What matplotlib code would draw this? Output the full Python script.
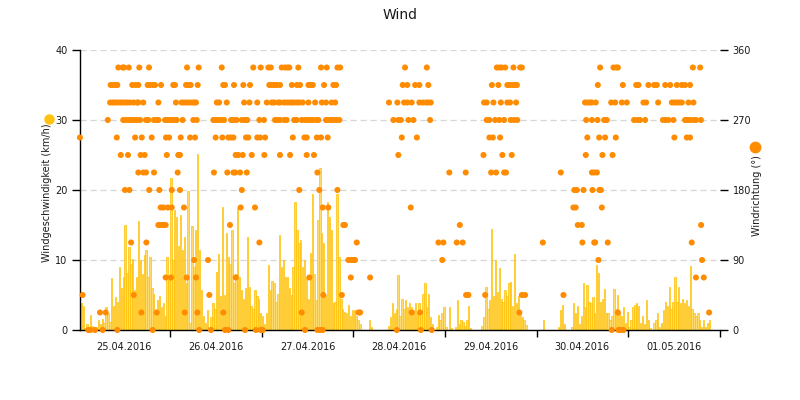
import matplotlib
matplotlib.use("Agg")
import matplotlib.pyplot as plt
import matplotlib.dates as mdates
from matplotlib.lines import Line2D
from datetime import datetime, timedelta
import numpy as np

# ---------------- data ----------------
start = datetime(2016, 4, 25)

# wind speed (km/h), 30-minute values per day
day0 = [0, 3.8, 3.5, 0.3, 0.9, 0.5, 2.1, 0.6, 0.3, 0.5, 1.4, 0.8, 1.6, 1.0, 3.3, 2.4, 1.2, 7.4, 3.5, 4.7,
        4.0, 9.0, 6.0, 7.6, 15.0, 8.1, 11.9, 9.5, 10.2, 5.7, 7.6, 15.6, 10.0, 8.0, 10.7, 11.4, 7.6, 10.5, 6.0, 5.2,
        2.5, 4.3, 4.8, 3.3, 3.8, 2.0, 10.5, 7.6]
day1 = [21.7, 10.0, 17.1, 16.2, 12.0, 16.4, 11.4, 13.3, 6.7, 19.8, 1.0, 14.8, 9.0, 14.3, 25.2, 11.4, 5.7, 2.0, 1.0, 2.9,
        0.5, 1.9, 3.8, 3.0, 8.3, 10.9, 4.8, 17.6, 5.0, 13.8, 10.5, 9.5, 14.3, 6.7, 8.0, 17.4, 7.6, 5.7, 4.5, 6.0,
        13.3, 6.2, 3.5, 3.0, 5.7, 4.8, 4.5, 2.4]
day2 = [2.0, 0.8, 2.4, 9.3, 5.7, 7.0, 6.7, 4.0, 5.2, 13.6, 9.0, 10.0, 7.6, 7.6, 6.0, 5.0, 9.0, 18.3, 14.3, 12.4,
        12.9, 9.0, 10.0, 7.6, 4.5, 11.0, 19.5, 8.0, 4.3, 15.7, 23.1, 13.8, 12.4, 5.0, 18.3, 16.2, 14.3, 3.8, 4.0, 19.5,
        10.5, 4.5, 3.0, 2.6, 2.4, 3.6, 2.0, 2.9]
day3 = [2.9, 2.0, 1.4, 0.8, 0, 0, 0, 0, 1.4, 0.5, 0, 0, 0, 0, 0, 0, 0, 0, 0.6, 1.9,
        3.8, 2.5, 3.0, 7.9, 2.0, 4.5, 3.0, 4.3, 3.3, 3.8, 3.3, 2.9, 3.8, 2.4, 3.8, 2.0, 5.2, 6.7, 3.3, 5.2,
        1.9, 0.8, 0, 0.5, 2.1, 1.5, 2.4, 3.3]
day4 = [0.5, 0, 3.3, 0.3, 0, 0.5, 4.3, 0.8, 1.4, 1.2, 0.6, 1.4, 3.5, 0.3, 0, 0, 0, 0, 0, 0.6,
        1.9, 6.2, 3.0, 4.3, 14.4, 4.8, 10.0, 5.5, 8.8, 4.5, 4.0, 5.7, 4.8, 6.7, 6.9, 3.5, 10.9, 3.8, 4.8, 2.5,
        1.9, 1.5, 0.7, 0, 0, 0, 0, 0]
day5 = [0, 0, 0, 1.4, 0, 0, 0, 0, 0, 0, 0, 0.5, 2.9, 3.6, 0.8, 0, 0, 0, 0.5, 3.9,
        2.5, 3.5, 0.8, 2.0, 6.7, 3.3, 6.4, 4.0, 3.8, 4.7, 2.5, 9.3, 8.2, 4.0, 4.5, 5.9, 2.5, 2.4, 1.5, 2.0,
        5.9, 3.0, 5.0, 2.4, 2.0, 3.3, 1.0, 2.6]
day6 = [0.5, 1.5, 3.3, 3.6, 3.8, 3.5, 1.0, 2.0, 0.8, 4.3, 1.5, 0.3, 0, 1.0, 1.4, 2.5, 0.5, 1.0, 2.9, 4.0,
        3.5, 6.2, 3.0, 4.0, 7.6, 4.0, 6.2, 3.8, 4.5, 3.8, 4.3, 3.5, 9.1, 3.0, 2.5, 2.0, 2.4, 1.5, 0.5, 1.4,
        0.5, 1.0, 1.4, 0, 0, 0, 0, 0]

# wind direction observations: hours since 25.04.2016 00:00, grouped by direction (degrees)
h_337 = [10.45, 11.6, 11.95, 13.2, 15.95, 18.5, 28.45, 31.5, 37.55, 45.8, 47.75, 49.75, 50.4, 53.25, 54.1, 54.75,
         55.25, 57.6, 63.55, 65.05, 67.85, 68.55, 85.55, 91.25, 109.6, 110.3, 110.9, 111.8, 113.95, 115.7, 116.15,
         136.65, 140.15, 140.85, 141.3, 160.95, 162.85]
h_315 = [8.45, 9.0, 9.6, 10.2, 14.1, 15.0, 15.7, 18.15, 18.75, 19.6, 20.05, 21.65, 24.85, 25.3, 28.2, 28.8, 29.4,
         31.25, 37.95, 38.4, 40.75, 43.2, 44.95, 50.0, 50.65, 51.25, 51.95, 52.8, 55.9, 57.2, 58.05, 60.25, 60.85,
         61.4, 64.35, 66.8, 67.5, 84.95, 86.15, 88.2, 89.3, 91.65, 108.3, 110.0, 112.35, 113.05, 113.8, 114.4,
         114.85, 136.05, 142.6, 146.1, 146.7, 149.3, 150.8, 151.5, 153.7, 155.0, 156.75, 158.05, 158.9, 160.2]
h_292 = [8.3, 9.0, 9.6, 10.2, 10.9, 11.5, 12.2, 12.8, 13.5, 14.4, 15.3, 15.7, 17.0, 20.95, 25.55, 27.05, 27.65,
         28.35, 29.05, 29.7, 30.3, 30.8, 36.25, 36.85, 38.85, 43.4, 44.8, 46.85, 49.35, 50.65, 51.25, 52.35, 52.8,
         53.85, 54.55, 55.25, 55.9, 56.5, 57.2, 57.85, 58.75, 60.25, 62.0, 63.75, 64.85, 66.35, 67.25, 81.35,
         83.55, 85.3, 86.15, 87.3, 89.3, 90.2, 91.05, 91.65, 92.3, 106.25, 106.95, 108.7, 110.65, 112.35, 113.05,
         114.65, 132.7, 133.3, 134.0, 134.45, 135.5, 139.55, 140.6, 142.35, 143.65, 148.0, 148.7, 151.85, 155.45,
         156.05, 156.75, 157.45, 158.05, 159.8, 161.1]
h_270 = [7.7, 11.75, 12.45, 13.2, 13.85, 14.55, 15.3, 16.15, 17.7, 18.3, 19.8, 20.5, 20.95, 22.7, 23.3, 24.0, 24.7,
         25.3, 25.75, 27.3, 30.1, 31.0, 35.35, 36.05, 36.65, 37.3, 38.15, 40.0, 40.6, 41.45, 42.8, 43.65, 44.25,
         47.4, 48.6, 51.5, 52.1, 52.8, 53.85, 54.55, 56.5, 57.2, 58.5, 59.35, 59.95, 60.7, 61.4, 62.25, 62.85,
         64.85, 65.45, 66.1, 66.8, 67.5, 68.35, 82.5, 83.8, 84.45, 86.45, 87.75, 92.1, 106.95, 107.65, 109.15,
         110.25, 111.5, 113.25, 114.1, 114.95, 133.0, 134.5, 135.95, 137.7, 138.4, 145.55, 146.4, 147.1, 148.45,
         153.1, 153.7, 154.55, 155.85, 158.9, 159.5, 160.2, 161.1, 161.75, 163.05]
h_247 = [0.4, 10.05, 14.85, 16.6, 19.2, 22.95, 23.75, 26.8, 29.25, 30.55, 35.95, 37.7, 39.25, 39.9, 40.6, 43.9,
         44.5, 46.85, 47.6, 48.9, 56.15, 59.2, 59.8, 62.45, 63.55, 65.3, 84.7, 88.65, 107.65, 108.55, 110.45,
         133.3, 136.4, 137.95, 140.75, 156.1, 159.35, 160.2]
h_225 = [11.1, 13.0, 16.3, 17.35, 23.15, 26.15, 26.6, 41.2, 41.9, 43.05, 45.4, 48.7, 52.8, 55.45, 59.8, 61.7,
         83.8, 106.1, 111.05, 113.5, 132.9, 137.25, 139.9]
h_202 = [15.7, 17.0, 17.7, 19.8, 26.0, 35.5, 39.0, 40.6, 41.05, 42.35, 44.1, 62.6, 97.15, 101.45, 108.1, 109.4,
         111.5, 112.0, 126.35, 134.5, 135.1, 135.8]
h_180 = [12.2, 13.35, 18.55, 21.2, 24.45, 26.6, 42.8, 57.85, 63.1, 67.85, 129.9, 130.55, 132.3, 134.65, 136.45,
         136.85]
h_157 = [21.55, 22.25, 23.4, 24.45, 27.65, 42.5, 46.25, 64.0, 65.45, 87.05, 129.65, 130.25, 137.1]
h_135 = [20.95, 21.55, 22.25, 22.85, 39.7, 69.4, 69.8, 99.9, 130.8, 131.85, 163.1]
h_112 = [13.8, 17.8, 47.4, 72.9, 94.3, 95.6, 99.1, 100.65, 121.65, 132.0, 135.1, 135.35, 138.65, 160.65]
h_090 = [30.3, 33.95, 70.7, 71.4, 72.0, 72.45, 95.3, 136.2, 163.35]
h_067 = [22.85, 24.25, 28.35, 30.8, 41.2, 60.5, 71.35, 76.4, 161.75, 163.8]
h_045 = [1.1, 14.5, 34.3, 64.15, 69.0, 101.55, 102.15, 106.55, 116.15, 117.0, 127.05]
h_022 = [5.65, 7.15, 16.5, 20.5, 27.85, 31.15, 37.95, 58.5, 73.35, 73.8, 87.3, 89.5, 115.5, 141.3, 165.2]
h_000 = [2.6, 3.2, 4.35, 6.35, 10.2, 19.45, 31.65, 34.75, 38.4, 39.25, 43.65, 46.5, 47.75, 48.3, 59.35, 62.6,
         63.3, 64.0, 83.4, 89.7, 92.55, 139.7, 141.45, 142.05, 142.75]

dir_levels = [337.5, 315, 292.5, 270, 247.5, 225, 202.5, 180, 157.5, 135, 112.5, 90, 67.5, 45, 22.5, 0]

speed_ticks = [0, 10, 20, 30, 40]
dir_ticks = [0, 90, 180, 270, 360]

# ---------------- build series ----------------
speed = day0 + day1 + day2 + day3 + day4 + day5 + day6
t_speed = [start + timedelta(minutes=30 * i + 15) for i in range(len(speed))]

dir_groups = [h_337, h_315, h_292, h_270, h_247, h_225, h_202, h_180, h_157, h_135, h_112, h_090, h_067,
              h_045, h_022, h_000]
dir_t, dir_v = [], []
for lvl, hours in zip(dir_levels, dir_groups):
    for h in hours:
        dir_t.append(start + timedelta(hours=h))
        dir_v.append(lvl)

# ---------------- plot ----------------
BAR = "#FFC000"
BAR_FILL = "#FFDB6E"
DOT = "#FF8C00"
TXT = "#1a1a1a"

fig = plt.figure(figsize=(8, 4), dpi=100)
fig.patch.set_facecolor("white")
ax = fig.add_axes([80 / 800, 1 - 330 / 400, 640 / 800, 280 / 400])

ax.bar(t_speed, speed, width=0.7 / 48, color=BAR_FILL, edgecolor=BAR, linewidth=0.5, zorder=2)

ax.set_ylim(0, 40)
ax.set_yticks(speed_ticks)
ax.yaxis.grid(True, color="#d6d6d6", linestyle=(0, (5, 3)), linewidth=0.9)
ax.set_axisbelow(True)
ax.xaxis.grid(False)

ax.set_xlim(start + timedelta(hours=0.42), start + timedelta(hours=168.05))
ax.xaxis.set_major_locator(mdates.DayLocator())
ax.xaxis.set_major_formatter(plt.NullFormatter())
ax.xaxis.set_minor_locator(mdates.HourLocator(byhour=[12]))
ax.xaxis.set_minor_formatter(mdates.DateFormatter("%d.%m.%Y"))
ax.tick_params(axis="x", which="major", length=5, width=1, color="black", direction="out")
ax.tick_params(axis="x", which="minor", length=0, pad=8.5, labelsize=7, labelcolor=TXT)
ax.tick_params(axis="y", length=6, width=1, color="black", labelsize=7, labelcolor=TXT, pad=3)

for s in ["top", "right"]:
    ax.spines[s].set_visible(False)
ax.spines["left"].set_color("black")
ax.spines["bottom"].set_color("black")
ax.spines["left"].set_linewidth(1)
ax.spines["bottom"].set_linewidth(1)

ax2 = ax.twinx()
ax2.scatter(dir_t, dir_v, s=19, color=DOT, edgecolors="none", zorder=3, clip_on=False)
ax2.set_ylim(0, 360)
ax2.set_yticks(dir_ticks)
for s in ax2.spines.values():
    s.set_visible(False)
ax2.tick_params(axis="y", length=6, width=1, color="black", labelsize=7, labelcolor=TXT, pad=3)
ax2.set_xlim(ax.get_xlim())

# titles and axis titles
fig.text(0.5, 1 - 15 / 400, "Wind", ha="center", va="center", fontsize=10, color=TXT)
fig.text(47 / 800, 1 - 193 / 400, "Windgeschwindigkeit (km/h)", rotation=90, ha="center", va="center",
         fontsize=7, color=TXT)
fig.text(757 / 800, 1 - 196 / 400, "Windrichtung (°)", rotation=90, ha="center", va="center",
         fontsize=7, color=TXT)
fig.add_artist(Line2D([49 / 800], [1 - 119 / 400], marker="o", markersize=6.5, color="#FFC20E",
                      linestyle="none", transform=fig.transFigure))
fig.add_artist(Line2D([755 / 800], [1 - 147 / 400], marker="o", markersize=7.5, color=DOT,
                      linestyle="none", transform=fig.transFigure))

fig.savefig("out.png", dpi=100, facecolor="white")
